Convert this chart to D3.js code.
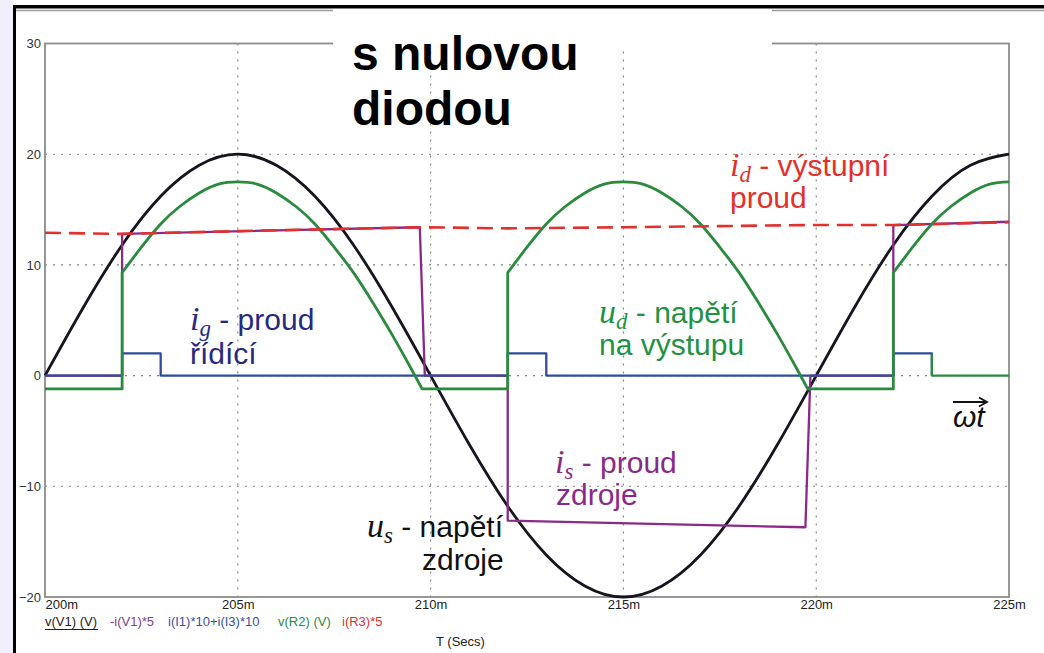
<!DOCTYPE html>
<html>
<head>
<meta charset="utf-8">
<script src="https://cdn.jsdelivr.net/npm/d3@7/dist/d3.min.js"></script>
<style>
  html, body { margin: 0; padding: 0; background: #fff; }
  svg { display: block; }
  text { font-family: "Liberation Sans", Arial, sans-serif; }
</style>
</head>
<body>
<svg id="chart" width="1044" height="653"></svg>
<script>
// ---- data (time in ms) ----
const timeTicks = [200, 205, 210, 215, 220, 225];
const valueTicks = [-20, -10, 0, 10, 20, 30];
const timeGrid = [205, 210, 215, 220];
const valueGrid = [-10, 0, 10, 20];

// u_s : source voltage v(V1)
const sourceVoltage = [
  [200, 0], [201, 6.2], [202, 11.8], [203, 16.2], [204, 19.0], [205, 20],
  [206, 19.0], [207, 16.2], [208, 11.8], [209, 6.2], [210, 0],
  [211, -6.2], [212, -11.8], [213, -16.2], [214, -19.0], [215, -20],
  [216, -19.0], [217, -16.2], [218, -11.8], [219, -6.2], [220, 0],
  [221, 6.2], [222, 11.8], [223, 16.2], [224, 19.0], [225, 20]
];

// u_d : output voltage v(R2), one segment per conduction / freewheeling interval
const outputVoltage = [
  [[200, -1.2], [202, -1.2]],
  [[202, 9.3], [202.5, 11.6], [203, 13.7], [203.5, 15.3], [204, 16.5], [204.5, 17.3],
   [205, 17.5], [205.5, 17.3], [206, 16.5], [206.5, 15.3], [207, 13.7], [207.5, 11.6],
   [208, 9.3], [208.5, 6.6], [209, 3.7], [209.5, 0.6], [209.78, -1.2]],
  [[209.78, -1.2], [212, -1.2]],
  [[212, 9.3], [212.5, 11.6], [213, 13.7], [213.5, 15.3], [214, 16.5], [214.5, 17.3],
   [215, 17.5], [215.5, 17.3], [216, 16.5], [216.5, 15.3], [217, 13.7], [217.5, 11.6],
   [218, 9.3], [218.5, 6.6], [219, 3.7], [219.5, 0.6], [219.78, -1.2]],
  [[219.78, -1.2], [222, -1.2]],
  [[222, 9.3], [222.5, 11.6], [223, 13.7], [223.5, 15.3], [224, 16.5], [224.5, 17.3], [225, 17.5]]
];

// i_s : source current -i(V1)*5
const sourceCurrent = [
  [200, 0], [202, 0], [202, 12.8], [209.72, 13.4], [209.85, 0], [212, 0],
  [212, -13.1], [219.72, -13.7], [219.85, 0], [222, 0], [222, 13.6], [225, 13.9]
];

// i_g : gate current i(I1)*10+i(I3)*10
const gateCurrent = [
  [200, 0], [202, 0], [202, 2], [203, 2], [203, 0], [212, 0], [212, 2], [213, 2],
  [213, 0], [222, 0], [222, 2], [223, 2], [223, 0], [225, 0]
];
const gateTailStart = 223;

// i_d : load current i(R3)*5
const loadCurrent = [
  [200, 12.9], [202, 12.8], [205, 13.05], [209.8, 13.4], [212, 13.3],
  [215, 13.4], [219.8, 13.6], [222, 13.6], [225, 13.85]
];

const legendLabels = ["v(V1) (V)", "-i(V1)*5", "i(I1)*10+i(I3)*10", "v(R2) (V)", "i(R3)*5"];

// ---- styles ----
const C = {
  us: "#15151f", is: "#8a2a88", ig: "#2f4c9c", ud: "#2a8a3e", id: "#e2302c",
  legendUs: "#222", navyText: "#27297f", greenText: "#1f9244"
};

const svg = d3.select("#chart");

// page frame
svg.append("rect").attr("x", 0).attr("y", 0).attr("width", 1044).attr("height", 653).attr("fill", "#fff");
svg.append("rect").attr("x", 0).attr("y", 0).attr("width", 13).attr("height", 653).attr("fill", "#f1effa");
svg.append("rect").attr("x", 13).attr("y", 5).attr("width", 1031).attr("height", 3.5).attr("fill", "#000");
svg.append("rect").attr("x", 13).attr("y", 5).attr("width", 3).attr("height", 648).attr("fill", "#000");
svg.append("line").attr("x1", 16).attr("x2", 1044).attr("y1", 10.5).attr("y2", 10.5)
  .attr("stroke", "#9a9a9a").attr("stroke-width", 1.6);

// scales
const x = d3.scaleLinear().domain([200, 225]).range([45, 1009]);
const y = d3.scaleLinear().domain([-20, 30]).range([597, 43.5]);

// grid
const grid = svg.append("g").attr("stroke", "#808080").attr("stroke-width", 1.1)
  .attr("stroke-dasharray", "2,6");
grid.selectAll("line.v").data(timeGrid).join("line").attr("class", "v")
  .attr("x1", d => x(d)).attr("x2", d => x(d)).attr("y1", y(30)).attr("y2", y(-20));
grid.selectAll("line.h").data(valueGrid).join("line").attr("class", "h")
  .attr("x1", x(200)).attr("x2", x(225)).attr("y1", d => y(d)).attr("y2", d => y(d));

// plot border
svg.append("rect").attr("x", x(200)).attr("y", y(30))
  .attr("width", x(225) - x(200)).attr("height", y(-20) - y(30))
  .attr("fill", "none").attr("stroke", "#8c8c8c").attr("stroke-width", 1.8);

// axes (labels only)
const yAxis = svg.append("g").attr("transform", `translate(${x(200)},0)`)
  .call(d3.axisLeft(y).tickValues(valueTicks).tickSize(0).tickPadding(4).tickFormat(d3.format("d")));
yAxis.select(".domain").remove();
yAxis.selectAll("text").attr("font-size", 13).attr("fill", "#333")
  .attr("font-family", "Liberation Sans, Arial, sans-serif");

const xAxis = svg.append("g").attr("transform", `translate(0,${y(-20)})`)
  .call(d3.axisBottom(x).tickValues(timeTicks).tickSize(0).tickPadding(3).tickFormat(d => d + "m"));
xAxis.select(".domain").remove();
xAxis.selectAll("text").attr("font-size", 13).attr("fill", "#222")
  .attr("font-family", "Liberation Sans, Arial, sans-serif");
xAxis.selectAll(".tick").filter(d => d === 200).select("text").attr("text-anchor", "start");

// traces
const line = (curve) => d3.line().x(d => x(d[0])).y(d => y(d[1])).curve(curve);
function segmentedPath(segments, curve) {
  const gen = line(curve);
  return segments.map((s, i) => { const p = gen(s); return i ? "L" + p.slice(1) : p; }).join("");
}
const traces = svg.append("g").attr("fill", "none").attr("stroke-linejoin", "round");

traces.append("path").attr("d", line(d3.curveNatural)(sourceVoltage))
  .attr("stroke", C.us).attr("stroke-width", 2.8);
traces.append("path").attr("d", line(d3.curveLinear)(sourceCurrent))
  .attr("stroke", C.is).attr("stroke-width", 2.3);
traces.append("path").attr("d", line(d3.curveLinear)(gateCurrent.filter(d => d[0] <= gateTailStart)))
  .attr("stroke", C.ig).attr("stroke-width", 2.3);
traces.append("path").attr("d", segmentedPath(outputVoltage, d3.curveNatural))
  .attr("stroke", C.ud).attr("stroke-width", 2.8);
traces.append("path").attr("d", line(d3.curveLinear)(gateCurrent.filter(d => d[0] >= gateTailStart)))
  .attr("stroke", C.ud).attr("stroke-width", 2.3);
traces.append("path").attr("d", line(d3.curveLinear)(loadCurrent))
  .attr("stroke", C.id).attr("stroke-width", 2.6).attr("stroke-dasharray", "16,8");

// title block
svg.append("rect").attr("x", 333).attr("y", 9).attr("width", 439).attr("height", 42).attr("fill", "#fff");
const title = svg.append("text").attr("font-weight", "bold").attr("font-size", 48).attr("fill", "#000");
title.append("tspan").attr("x", 352).attr("y", 70).text("s nulovou");
title.append("tspan").attr("x", 352).attr("y", 125).text("diodou");

// annotations
const SERIF = "Liberation Serif, Times New Roman, serif";
function note(x0, y0, color, sym, sub, rest) {
  const t = svg.append("text").attr("x", x0).attr("y", y0).attr("fill", color).attr("font-size", 30);
  t.append("tspan").attr("font-family", SERIF).attr("font-style", "italic").attr("font-size", 34).text(sym);
  t.append("tspan").attr("font-family", SERIF).attr("font-style", "italic").attr("font-size", 23)
    .attr("dy", 6).text(sub);
  t.append("tspan").attr("dy", -6).text(rest);
}
function plain(x0, y0, color, s) {
  svg.append("text").attr("x", x0).attr("y", y0).attr("fill", color).attr("font-size", 30).text(s);
}
note(730, 176, C.id, "i", "d", "\u00a0- výstupní");
plain(730, 208, C.id, "proud");
note(190, 330, C.navyText, "i", "g", "\u00a0- proud");
plain(190, 364, C.navyText, "řídící");
note(599, 323, C.greenText, "u", "d", "\u00a0- napětí");
plain(599, 355, C.greenText, "na výstupu");
note(555, 473, C.is, "i", "s", "\u00a0- proud");
plain(556, 505, C.is, "zdroje");
note(367, 537, "#111", "u", "s", "\u00a0- napětí");
plain(422, 570, "#111", "zdroje");

// ωt arrow
svg.append("path").attr("d", "M953,402H986M979,397.5L987,402L979,406.5")
  .attr("fill", "none").attr("stroke", "#111").attr("stroke-width", 1.8);
svg.append("text").attr("x", 953).attr("y", 427).attr("font-family", SERIF)
  .attr("font-style", "italic").attr("font-size", 30).attr("fill", "#111").text("ωt");

// legend
const legendX = [45, 110, 168, 278, 342];
const legendColors = [C.legendUs, "#8a3a8a", "#3a4f9e", C.ud, C.id];
svg.append("g").selectAll("text").data(legendLabels).join("text")
  .attr("x", (d, i) => legendX[i]).attr("y", 626)
  .attr("font-size", 13).attr("fill", (d, i) => legendColors[i]).text(d => d);
svg.append("line").attr("x1", 45).attr("x2", 98).attr("y1", 629.5).attr("y2", 629.5)
  .attr("stroke", C.legendUs).attr("stroke-width", 1);
svg.append("text").attr("x", 436).attr("y", 646).attr("font-size", 13).attr("fill", "#222").text("T (Secs)");
</script>
</body>
</html>
